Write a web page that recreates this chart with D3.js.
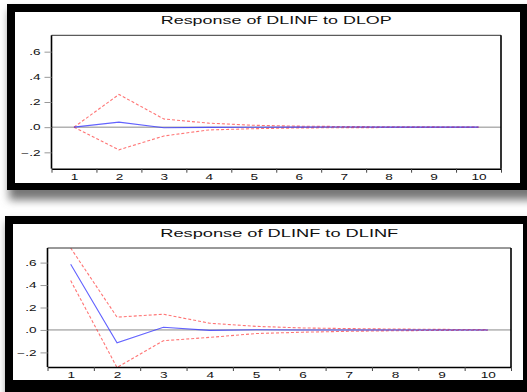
<!DOCTYPE html>
<html>
<head>
<meta charset="utf-8">
<script src="https://cdn.jsdelivr.net/npm/d3@7"></script>
<style>
  html, body { margin: 0; padding: 0; background: #fff; overflow: hidden; }
  svg text { font-family: "Liberation Sans", Arial, sans-serif; }
</style>
</head>
<body>
<script>
"use strict";
// horizons on the x axis
const periods = [1, 2, 3, 4, 5, 6, 7, 8, 9, 10]
const yTicks = [-0.2, 0, 0.2, 0.4, 0.6]

// Response of DLINF to DLOP
const opResponse = [0, 0.04, -0.005, -0.002, -0.001, 0, 0.001, 0, 0, 0]
const opUpper = [0, 0.26, 0.065, 0.032, 0.015, 0.008, 0.005, 0.003, 0.002, 0.001]
const opLower = [0, -0.18, -0.07, -0.022, -0.012, -0.006, -0.004, -0.003, -0.002, -0.001]

// Response of DLINF to DLINF
const infResponse = [0.585, -0.114, 0.024, -0.004, 0.002, 0, 0, 0, 0, 0]
const infUpper = [0.73, 0.114, 0.14, 0.06, 0.032, 0.018, 0.012, 0.008, 0.005, 0.003]
const infLower = [0.44, -0.335, -0.096, -0.066, -0.032, -0.02, -0.012, -0.007, -0.004, -0.002]

const W = 527, H = 392
const stretch = 1.6   // the picture's text is drawn wide

const svg = d3.select("body").append("svg")
    .attr("width", W)
    .attr("height", H)

const defs = svg.append("defs")
defs.append("filter")
    .attr("id", "shadow")
    .attr("x", "-10%").attr("y", "-10%")
    .attr("width", "120%").attr("height", "130%")
    .append("feGaussianBlur")
    .attr("stdDeviation", 4)

const panels = [
    {
        title: "Response of DLINF to DLOP",
        resp: opResponse, upper: opUpper, lower: opLower,
        outer: [7, 4, 560, 190], inner: [15, 12, 520, 183],
        plot: { left: 51.5, top: 35.3, right: 501, bottom: 168.7 },
        titleY: 23.5, titleW: 231
    },
    {
        title: "Response of DLINF to DLINF",
        resp: infResponse, upper: infUpper, lower: infLower,
        outer: [5, 216, 560, 420], inner: [13, 224, 523, 380],
        plot: { left: 47.5, top: 248, right: 511, bottom: 367 },
        titleY: 237, titleW: 238
    }
]

panels.forEach((p, i) => drawPanel(p, i))

function drawPanel(p, idx) {
    const g = svg.append("g")

    // drop shadow and black frame
    g.append("rect")
        .attr("x", p.outer[0] + 2)
        .attr("y", p.outer[1] + 6)
        .attr("width", p.outer[2] - p.outer[0])
        .attr("height", p.outer[3] - p.outer[1] + 4)
        .attr("fill", "#777")
        .attr("filter", "url(#shadow)")
    g.append("rect")
        .attr("x", p.outer[0]).attr("y", p.outer[1])
        .attr("width", p.outer[2] - p.outer[0])
        .attr("height", p.outer[3] - p.outer[1])
        .attr("fill", "#000")
    g.append("rect")
        .attr("x", p.inner[0]).attr("y", p.inner[1])
        .attr("width", p.inner[2] - p.inner[0])
        .attr("height", p.inner[3] - p.inner[1])
        .attr("fill", "#fff")

    const pl = p.plot
    const x = d3.scaleLinear()
        .domain([0.5, 10.5])
        .range([pl.left, pl.right])
    const y = d3.scaleLinear()
        .domain([-0.33, 0.73])
        .range([pl.bottom, pl.top])

    // title, stretched to the width seen in the picture
    g.append("text")
        .attr("x", (pl.left + pl.right) / 2 - p.titleW / 2)
        .attr("y", p.titleY)
        .attr("textLength", p.titleW)
        .attr("lengthAdjust", "spacingAndGlyphs")
        .style("font-size", "11.5px")
        .attr("fill", "#111")
        .text(p.title)

    // zero line
    g.append("line")
        .attr("x1", pl.left).attr("x2", pl.right)
        .attr("y1", y(0)).attr("y2", y(0))
        .attr("stroke", "#8a8a8a")
        .attr("stroke-width", 1)

    // series
    const clipId = "clip" + idx
    defs.append("clipPath").attr("id", clipId)
        .append("rect")
        .attr("x", pl.left).attr("y", pl.top)
        .attr("width", pl.right - pl.left)
        .attr("height", pl.bottom - pl.top)

    const line = d3.line()
        .x((d, j) => x(periods[j]))
        .y(d => y(d))

    const series = g.append("g").attr("clip-path", `url(#${clipId})`)
    ;[p.upper, p.lower].forEach(band => {
        series.append("path")
            .attr("d", line(band))
            .attr("fill", "none")
            .attr("stroke", "#ff3a3a")
            .attr("stroke-opacity", 0.7)
            .attr("stroke-width", 1.1)
            .attr("stroke-dasharray", "3,2")
    })
    series.append("path")
        .attr("d", line(p.resp))
        .attr("fill", "none")
        .attr("stroke", "#3b3bff")
        .attr("stroke-opacity", 0.8)
        .attr("stroke-width", 1.1)

    // plot box
    g.append("line")
        .attr("x1", pl.left).attr("x2", pl.right)
        .attr("y1", pl.top).attr("y2", pl.top)
        .attr("stroke", "#333").attr("stroke-width", 1)
    ;[pl.left, pl.right].forEach(xx => {
        g.append("line")
            .attr("x1", xx).attr("x2", xx)
            .attr("y1", pl.top).attr("y2", pl.bottom)
            .attr("stroke", "#000").attr("stroke-width", 1.6)
    })

    // y axis
    const fmt = v => d3.format(".1f")(v).replace("0.", ".")
    const yAxis = g.append("g")
        .attr("transform", `translate(${pl.left},0)`)
        .call(d3.axisLeft(y).tickValues(yTicks).tickSize(7).tickPadding(4).tickFormat(fmt))
    yAxis.select(".domain").remove()
    yAxis.selectAll("line").attr("stroke", "#999")
    styleTicks(yAxis)

    // x axis: ticks at period boundaries, labels at centres
    const xTickAxis = g.append("g")
        .attr("transform", `translate(0,${pl.bottom})`)
        .call(d3.axisBottom(x).tickValues(d3.range(0.5, 11, 1)).tickSize(4).tickSizeOuter(0).tickFormat(""))
    xTickAxis.select(".domain").attr("stroke", "#000").attr("stroke-width", 1.4)
    xTickAxis.selectAll(".tick line").attr("stroke", "#444")

    const xLabelAxis = g.append("g")
        .attr("transform", `translate(0,${pl.bottom})`)
        .call(d3.axisBottom(x).tickValues(periods).tickSize(0).tickPadding(5).tickFormat(d3.format("d")))
    xLabelAxis.select(".domain").remove()
    styleTicks(xLabelAxis)
}

function styleTicks(axis) {
    axis.selectAll("text")
        .style("font-size", "8.5px")
        .attr("fill", "#111")
        .each(function() {
            const t = d3.select(this)
            const x0 = +t.attr("x") || 0
            t.attr("x", x0 / stretch)
                .attr("transform", `scale(${stretch},1)`)
        })
}
</script>
</body>
</html>
